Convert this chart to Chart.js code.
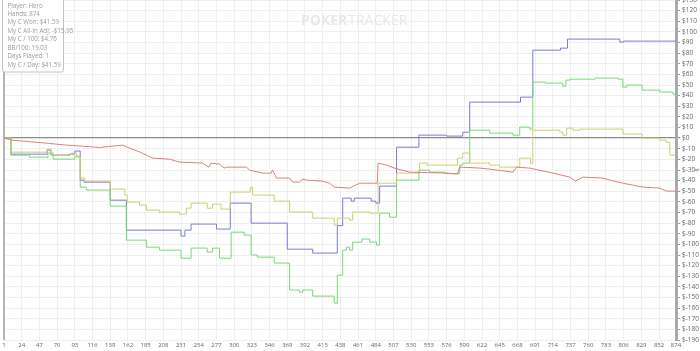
<!DOCTYPE html>
<html>
<head>
<meta charset="utf-8">
<script src="https://cdn.jsdelivr.net/npm/chart.js@4"></script>
<style>
  html, body { margin: 0; padding: 0; background: #fff; overflow: hidden; }
  #wrap { position: absolute; left: 0; top: 0; width: 700px; height: 351px; }
</style>
</head>
<body>
<div id="wrap"><canvas id="graph" width="700" height="351"></canvas></div>
<script>
/* Session graph — hands vs winnings */

// x axis ticks (hand numbers) and y axis ticks ($)
const xTicks = [1, 24, 47, 70, 93, 116, 139, 162, 185, 208, 231, 254, 277, 300, 323, 346, 369, 392,
  415, 438, 461, 484, 507, 530, 553, 576, 599, 622, 645, 668, 691, 714, 737, 760, 783, 806, 829, 852, 874];
const yTicks = [130, 120, 110, 100, 90, 80, 70, 60, 50, 40, 30, 20, 10, 0, -10, -20, -30, -40, -50,
  -60, -70, -80, -90, -100, -110, -120, -130, -140, -150, -160, -170, -180, -190];

// Showdown winnings (blue): hand where value changes, new value
const blueHands = [1, 10, 57, 62, 86, 93, 100, 105, 139, 160, 231, 236, 244, 277, 295, 322, 369, 402,
  434, 441, 452, 456, 478, 484, 489, 511, 540, 576, 597, 606, 672, 688, 724, 733, 801, 806, 874];
const blueVals = [0, -15.1, -11.3, -16, -15, -12.2, -39.5, -41.4, -58.4, -86.6, -92.2, -86.6, -80.9, -85.6,
  -61.2, -80, -104.5, -108.2, -82.4, -56.5, -59.3, -56.5, -59.3, -61.2, -45.2, -8.5, 2.8, 1.9, 5.6, 33.9,
  38.6, 82.8, 84.7, 93.2, 90.4, 91.3, 91.3];

// My C Won (green)
const greenHands = [1, 10, 34, 56, 58, 65, 93, 100, 108, 139, 160, 186, 203, 231, 244, 265, 272, 281, 296,
  313, 322, 330, 352, 372, 385, 389, 402, 430, 434, 441, 446, 450, 454, 466, 476, 485, 489, 502, 511,
  540, 554, 573, 593, 597, 606, 632, 662, 671, 684, 688, 704, 727, 731, 736, 769, 799, 805, 810, 830,
  853, 870, 874];
const greenVals = [0, -16, -17.9, -18.4, -14.1, -19.8, -16.9, -46.1, -48.9, -64, -96, -102.6, -105.4, -113,
  -103.5, -107.3, -103.5, -113, -88.5, -91.3, -110, -112, -117.6, -143, -145, -143, -148.7, -155.3, -129,
  -105.4, -102.6, -105.4, -97.9, -95, -97.9, -100.7, -70.6, -74.4, -39.5, -30.1, -32, -33.4, -25.4,
  -23.5, 7.5, 4.7, 2.8, 10.4, 8.5, 52.7, 51.8, 48.9, 54.6, 55.5, 56.5, 55.5, 48, 49.9, 45.2, 43.3,
  41.4, 41.4];

// My C All-In Adj (yellow)
const yellowHands = [1, 10, 57, 62, 88, 95, 100, 106, 139, 158, 161, 177, 186, 203, 229, 238, 244, 265,
  272, 283, 295, 321, 324, 352, 372, 402, 430, 434, 450, 454, 476, 487, 511, 541, 551, 590, 597, 606,
  632, 645, 671, 685, 688, 723, 727, 732, 740, 749, 805, 830, 853, 861, 866, 874];
const yellowVals = [0, -13.2, -10.4, -16, -14.1, -17.9, -37.6, -40.5, -48, -53.6, -60.2, -63.1, -67.8,
  -69.6, -71.5, -65.9, -61.2, -65.9, -62.1, -66.8, -50.8, -46.1, -53.6, -59.3, -69.6, -75.3, -81.9,
  -75.3, -77.2, -69.6, -70.6, -42.4, -32.9, -23.5, -25.4, -18.8, -14.1, -23.5, -25.4, -27.3, -18.8,
  -23.5, 7.5, 5.6, 2.8, 9.4, 7.5, 8.5, 3.8, 0, -1.9, -3.8, -16, -16];

// Non-showdown winnings (red)
const redHands = [1, 11, 37, 60, 82, 102, 125, 142, 155, 164, 177, 186, 194, 216, 229, 259, 267, 270,
  281, 287, 290, 316, 320, 337, 348, 350, 355, 372, 376, 385, 389, 394, 415, 424, 430, 450, 463, 486,
  487, 498, 508, 528, 576, 590, 593, 619, 632, 662, 667, 684, 714, 736, 743, 753, 779, 788, 805, 831,
  853, 862, 874];
const redVals = [0, -1.9, -3.5, -5, -6.6, -7.5, -8.8, -7.5, -6.6, -9.4, -12.9, -16, -18.8, -19.8, -22.6,
  -23.5, -27.3, -23.5, -24.5, -28.2, -27.3, -27.3, -30.1, -32.9, -32.9, -30.1, -37.6, -37.6, -41.4,
  -41.4, -38.6, -39.5, -40.5, -42.4, -46.1, -47.1, -42.4, -42.4, -23.5, -25.4, -28.2, -32, -32.9,
  -33.9, -27.3, -28.2, -29.2, -32, -27.3, -28.2, -32.9, -36.7, -40.5, -36.7, -37.6, -39.5, -42.4,
  -46.1, -47.1, -49.9, -49.9];

const statLines = ['Player: Hero', 'Hands: 874', 'My C Won: $41.59', 'My C All-In Adj: -$15.95',
  'My C / 100: $4.76', 'BB/100: 19.03', 'Days Played: 1', 'My C / Day: $41.59'];

function pts(hands, vals) {
  return hands.map(function (h, i) { return { x: h, y: vals[i] }; });
}

function line(data, color, stepped) {
  return {
    data: data,
    borderColor: color,
    borderWidth: 1,
    pointRadius: 0,
    pointHoverRadius: 0,
    stepped: stepped,
    tension: 0,
    fill: false
  };
}

// watermark, left axis line, stats box and small axis mark
const decor = {
  id: 'decor',
  beforeDatasetsDraw: function (chart) {
    const c = chart.ctx;
    const a = chart.chartArea;
    c.save();
    c.strokeStyle = '#a0a0a0';
    c.lineWidth = 1.5;
    c.beginPath();
    c.moveTo(a.left, a.top);
    c.lineTo(a.left, a.bottom);
    c.stroke();
    c.fillStyle = '#e8e8e8';
    c.textBaseline = 'middle';
    c.font = 'bold 14px "Open Sans", sans-serif';
    c.fillText('POKER', 301, 21);
    const w = c.measureText('POKER').width;
    c.font = '14px "Open Sans", sans-serif';
    c.fillText('TRACKER', 302 + w, 21);
    c.restore();
  },
  afterDraw: function (chart) {
    const c = chart.ctx;
    c.save();
    c.fillStyle = '#fff';
    c.strokeStyle = '#c4c4c4';
    c.lineWidth = 1;
    c.beginPath();
    c.roundRect(2.5, -2, 61, 74, 2);
    c.fill();
    c.stroke();
    c.fillStyle = '#9a9a9a';
    c.font = '6.2px "Open Sans", sans-serif';
    c.textBaseline = 'middle';
    statLines.forEach(function (t, i) {
      c.fillText(t, 7.5, 5.8 + i * 8.43);
    });
    c.translate(697, 170);
    c.rotate(Math.PI / 2);
    c.fillStyle = '#777';
    c.textAlign = 'center';
    c.font = '6px "Open Sans", sans-serif';
    c.fillText('$', 0, 0);
    c.restore();
  }
};

new Chart(document.getElementById('graph'), {
  type: 'line',
  data: {
    datasets: [
      line(pts(redHands, redVals), 'rgb(218, 128, 128)', false),
      line(pts(yellowHands, yellowVals), 'rgb(206, 206, 112)', true),
      line(pts(greenHands, greenVals), 'rgb(122, 214, 122)', true),
      line(pts(blueHands, blueVals), 'rgb(122, 122, 224)', true)
    ]
  },
  options: {
    responsive: false,
    animation: false,
    events: [],
    layout: { padding: { left: 4, right: 0, top: 0, bottom: 0 } },
    plugins: { legend: { display: false }, tooltip: { enabled: false } },
    scales: {
      x: {
        type: 'linear',
        min: 1,
        max: 874,
        afterBuildTicks: function (s) { s.ticks = xTicks.map(function (v) { return { value: v }; }); },
        afterFit: function (s) { s.height = 11; s.paddingLeft = 0; s.paddingRight = 0; },
        grid: { color: '#efefef', lineWidth: 1, drawTicks: false },
        border: { display: false },
        ticks: {
          autoSkip: false,
          maxRotation: 0,
          padding: 2,
          color: '#666',
          font: { family: '"Open Sans", sans-serif', size: 6 }
        }
      },
      y: {
        position: 'right',
        min: -190,
        max: 130,
        afterBuildTicks: function (s) { s.ticks = yTicks.map(function (v) { return { value: v }; }); },
        afterFit: function (s) { s.width = 24; s.paddingTop = 0; s.paddingBottom = 0; },
        grid: {
          color: function (ctx) { return ctx.tick && ctx.tick.value === 0 ? '#8a8a8a' : '#efefef'; },
          lineWidth: function (ctx) { return ctx.tick && ctx.tick.value === 0 ? 1.3 : 1; },
          tickColor: '#999',
          tickLength: 4
        },
        border: { color: '#aaaaaa', width: 3 },
        ticks: {
          autoSkip: false,
          padding: 2,
          color: '#666',
          font: { family: '"Open Sans", sans-serif', size: 6.5 },
          callback: function (v) { return '$' + v; }
        }
      }
    }
  },
  plugins: [decor]
});
</script>
</body>
</html>
